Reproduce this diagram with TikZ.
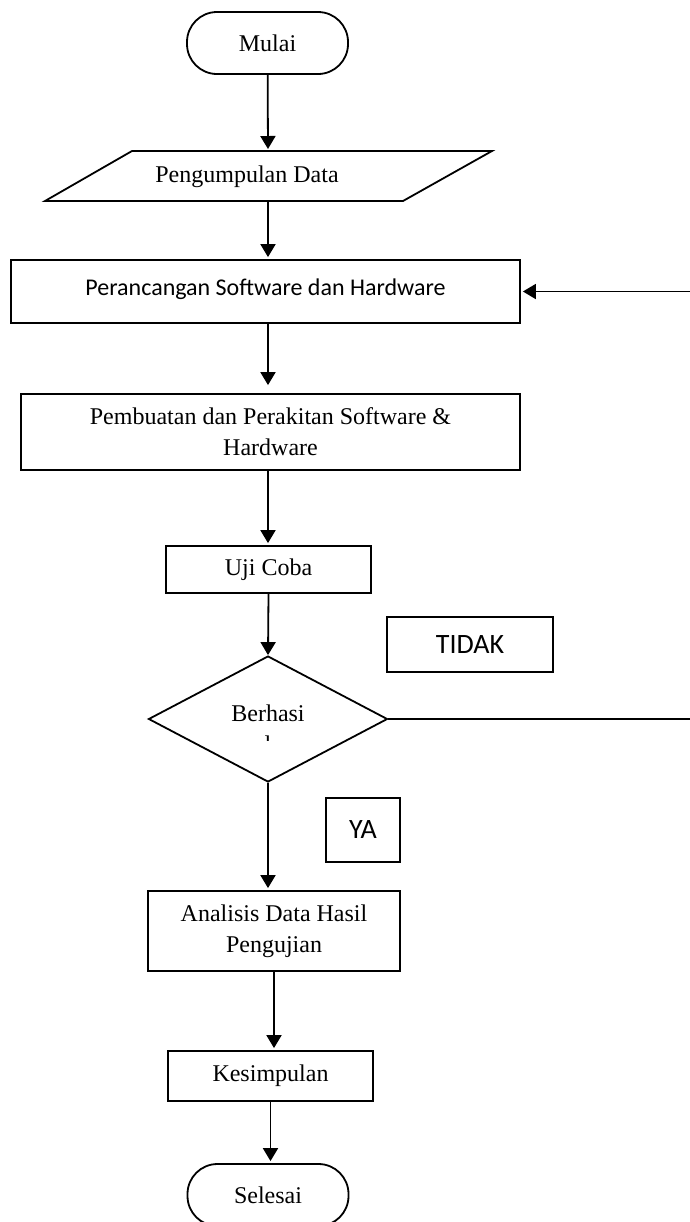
\documentclass[tikz,border=0pt]{standalone}
\usepackage{fontspec}
\setmainfont{Liberation Serif}
\newfontfamily\calibri{Carlito}
\usepackage{tikz}
\usetikzlibrary{positioning,calc,shapes.geometric,arrows.meta}

\begin{document}
\begin{tikzpicture}[x=0.5pt,y=-0.5pt,>={Triangle[length=6.5pt,width=7.5pt]},
                line width=0.9pt,font=\fontsize{12}{15.5}\selectfont,
                flow/.style={->,shorten >=1pt},
                proc node/.style={rectangle,draw,inner sep=0pt,align=center},
                term node/.style={rectangle,draw,rounded corners=15pt,inner sep=0pt,minimum width=80.5pt,minimum height=31pt},
                dec node/.style={diamond,draw,inner sep=0pt,minimum width=119.5pt,minimum height=63pt},
                tag node/.style={rectangle,draw,inner sep=0pt,font=\calibri\fontsize{14}{16}\selectfont}]
\useasboundingbox (0,0) rectangle (690,1222);
%Nodes
    \node[term node] (mulai) at (267.5,43) {Mulai};
    \draw (132,151) -- (492,151) -- (403,201) -- (45,201) -- cycle;
    \coordinate (dtop) at (268,151);
    \coordinate (dbot) at (268,201);
    \node (data) at (247,177) {Pengumpulan Data};
    \node[proc node,minimum width=254.5pt,minimum height=31.5pt,font=\calibri\fontsize{12}{14}\selectfont] (rancang) at (265.5,291.5) {\raisebox{4pt}{Perancangan Software dan Hardware}};
    \node[proc node,minimum width=249.5pt,minimum height=38pt] (buat) at (270.5,432) {Pembuatan dan Perakitan Software \&\\Hardware};
    \node[proc node,minimum width=102.5pt,minimum height=23.5pt] (uji) at (268.5,569.5) {Uji Coba};
    \node[dec node] (dec) at (268,719) {};
    \node[anchor=base] (dectext) at (268,721) {Berhasi};
    \begin{scope}
    \clip (200,728) rectangle (340,740);
    \node[anchor=base] (decrest) at (268,752) {l};
    \end{scope}
    \node[tag node,minimum width=83pt,minimum height=27.5pt] (tidak) at (470,644.5) {TIDAK};
    \node[tag node,minimum width=37pt,minimum height=32pt] (ya) at (363,830) {YA};
    \node[proc node,minimum width=126pt,minimum height=40pt] (analisis) at (274,931) {Analisis Data Hasil\\Pengujian};
    \node[proc node,minimum width=102.5pt,minimum height=25pt] (simpul) at (270.5,1076) {Kesimpulan};
    \node[term node] (selesai) at (268,1195) {Selesai};
%Lines
    \draw[flow] (mulai) -- (dtop);
    \draw[flow] (dbot) -- (dbot |- rancang.north);
    \draw[flow,shorten >=4pt] (dbot |- rancang.south) -- (dbot |- buat.north);
    \draw[flow] (dbot |- buat.south) -- (dbot |- uji.north);
    \draw[flow,shorten >=0pt] (uji.south) -- (dec.north);
    \draw[flow] (dec.south) -- (dec.south |- analisis.north);
    \draw[flow] (analisis.south) -- (analisis.south |- simpul.north);
    \draw[flow] (simpul.south) -- (simpul.south |- selesai.north);
    \draw[flow] (dec.east) -- ++(310,0) |- (rancang.east);
\end{tikzpicture}
\end{document}
